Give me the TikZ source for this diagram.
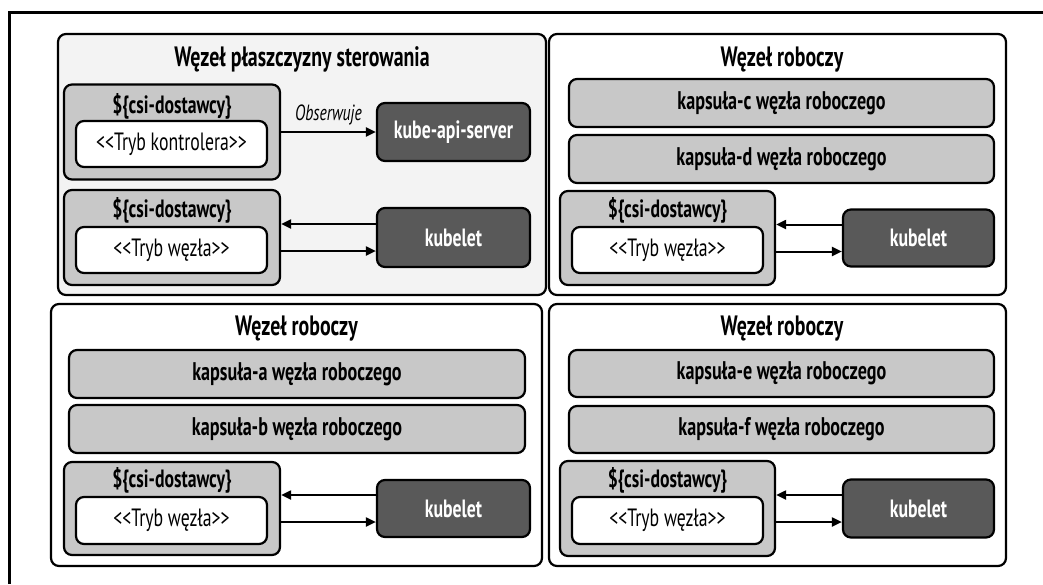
\documentclass[tikz,border=0pt]{standalone}
\usepackage{fontspec}
\setmainfont[FakeStretch=0.71]{PT Sans}
\usetikzlibrary{arrows.meta}
\definecolor{panelgray}{HTML}{F3F3F3}
\definecolor{boxgray}{HTML}{C8C8C8}
\definecolor{darkbox}{HTML}{595959}

\begin{document}
\begin{tikzpicture}[x=1pt,y=-1pt,inner sep=0pt,
  panel/.style={draw,line width=2.2pt,rounded corners=8pt,fill=white},
  podbox/.style={draw,line width=2.2pt,rounded corners=8pt,fill=boxgray,font=\bfseries\fontsize{25.5}{27}\selectfont},
  csibox/.style={draw,line width=2.2pt,rounded corners=8pt,fill=boxgray},
  csititle/.style={font=\bfseries\fontsize{25}{27}\selectfont},
  modebox/.style={draw,line width=2.2pt,rounded corners=8pt,fill=white,font=\fontsize{25}{27}\selectfont},
  darkbox/.style={draw,line width=2.2pt,rounded corners=8pt,fill=darkbox,text=white,font=\bfseries\fontsize{25}{27}\selectfont},
  paneltitle/.style={anchor=base,font=\bfseries\fontsize{28}{30}\selectfont},
  arr/.style={line width=2pt,-{Triangle[length=10pt,width=9pt]}}]
\useasboundingbox (0,0) rectangle (1043,584);
\draw[line width=3pt] (9,584) |- (1043,12);

\node[panel,fill=panelgray,minimum width=488pt,minimum height=261pt] (cpnode) at (302,164.5) {};
\node[panel,minimum width=457pt,minimum height=261pt] (wnodeB) at (777.5,164.5) {};
\node[panel,minimum width=491pt,minimum height=262pt] (wnodeA) at (296.5,435) {};
\node[panel,minimum width=457pt,minimum height=262pt] (wnodeC) at (777.5,435) {};

\node[paneltitle] (cptitle) at (302,66) {Węzeł płaszczyzny sterowania};
\node[csibox,minimum width=216pt,minimum height=95pt] (csiA) at (172,132) {};
\node[csititle] (csiAt) at (172,106) {\$\{csi-dostawcy\}};
\node[modebox,minimum width=191pt,minimum height=46pt] (modeA) at (171.5,144) {<{}<Tryb kontrolera>{}>};
\node[darkbox,minimum width=153pt,minimum height=58pt] (api) at (453.5,132) {kube-api-server};
\draw[arr] (csiA.east) -- (api.west) node[midway,above=6pt,font=\itshape\fontsize{22}{24}\selectfont] (watch) {Obserwuje};
\node[csibox,minimum width=216pt,minimum height=95pt] (csiB) at (172,237.5) {};
\node[csititle] (csiBt) at (172,210) {\$\{csi-dostawcy\}};
\node[modebox,minimum width=191pt,minimum height=46pt] (modeB) at (171.5,250) {<{}<Tryb węzła>{}>};
\node[darkbox,minimum width=153pt,minimum height=59pt] (kubA) at (453.5,237.5) {kubelet};
\draw[arr] ([yshift=13.5pt]kubA.west) -- ([yshift=13.5pt]csiB.east);
\draw[arr] ([yshift=-13.5pt]csiB.east) -- ([yshift=-13.5pt]kubA.west);

\node[paneltitle] (wtitleB) at (782,66) {Węzeł roboczy};
\node[podbox,minimum width=425pt,minimum height=48pt] (podC) at (781.5,103) {kapsuła-c węzła roboczego};
\node[podbox,minimum width=425pt,minimum height=48pt] (podD) at (781.5,159) {kapsuła-d węzła roboczego};
\node[csibox,minimum width=215pt,minimum height=94pt] (csiC) at (667.5,238) {};
\node[csititle] (csiCt) at (667.5,210) {\$\{csi-dostawcy\}};
\node[modebox,minimum width=191pt,minimum height=46pt] (modeC) at (667.5,250) {<{}<Tryb węzła>{}>};
\node[darkbox,minimum width=151pt,minimum height=57pt] (kubB) at (918.5,238) {kubelet};
\draw[arr] ([yshift=13.5pt]kubB.west) -- ([yshift=13.5pt]csiC.east);
\draw[arr] ([yshift=-13.5pt]csiC.east) -- ([yshift=-13.5pt]kubB.west);

\node[paneltitle] (wtitleA) at (296.5,335) {Węzeł roboczy};
\node[podbox,minimum width=456pt,minimum height=48pt] (podA) at (297,374) {kapsuła-a węzła roboczego};
\node[podbox,minimum width=456pt,minimum height=48pt] (podB) at (297,429) {kapsuła-b węzła roboczego};
\node[csibox,minimum width=216pt,minimum height=93pt] (csiD) at (172,508.5) {};
\node[csititle] (csiDt) at (172,480) {\$\{csi-dostawcy\}};
\node[modebox,minimum width=191pt,minimum height=47pt] (modeD) at (171.5,520.5) {<{}<Tryb węzła>{}>};
\node[darkbox,minimum width=153pt,minimum height=57pt] (kubC) at (453.5,508.5) {kubelet};
\draw[arr] ([yshift=13.5pt]kubC.west) -- ([yshift=13.5pt]csiD.east);
\draw[arr] ([yshift=-13.5pt]csiD.east) -- ([yshift=-13.5pt]kubC.west);

\node[paneltitle] (wtitleC) at (782,335) {Węzeł roboczy};
\node[podbox,minimum width=425pt,minimum height=47pt] (podE) at (781.5,373.5) {kapsuła-e węzła roboczego};
\node[podbox,minimum width=425pt,minimum height=47pt] (podF) at (781.5,429.5) {kapsuła-f węzła roboczego};
\node[csibox,minimum width=215pt,minimum height=95pt] (csiE) at (667.5,508.5) {};
\node[csititle] (csiEt) at (667.5,480) {\$\{csi-dostawcy\}};
\node[modebox,minimum width=191pt,minimum height=47pt] (modeE) at (667.5,520.5) {<{}<Tryb węzła>{}>};
\node[darkbox,minimum width=151pt,minimum height=58pt] (kubD) at (918.5,508.5) {kubelet};
\draw[arr] ([yshift=13.5pt]kubD.west) -- ([yshift=13.5pt]csiE.east);
\draw[arr] ([yshift=-13.5pt]csiE.east) -- ([yshift=-13.5pt]kubD.west);
\end{tikzpicture}
\end{document}
